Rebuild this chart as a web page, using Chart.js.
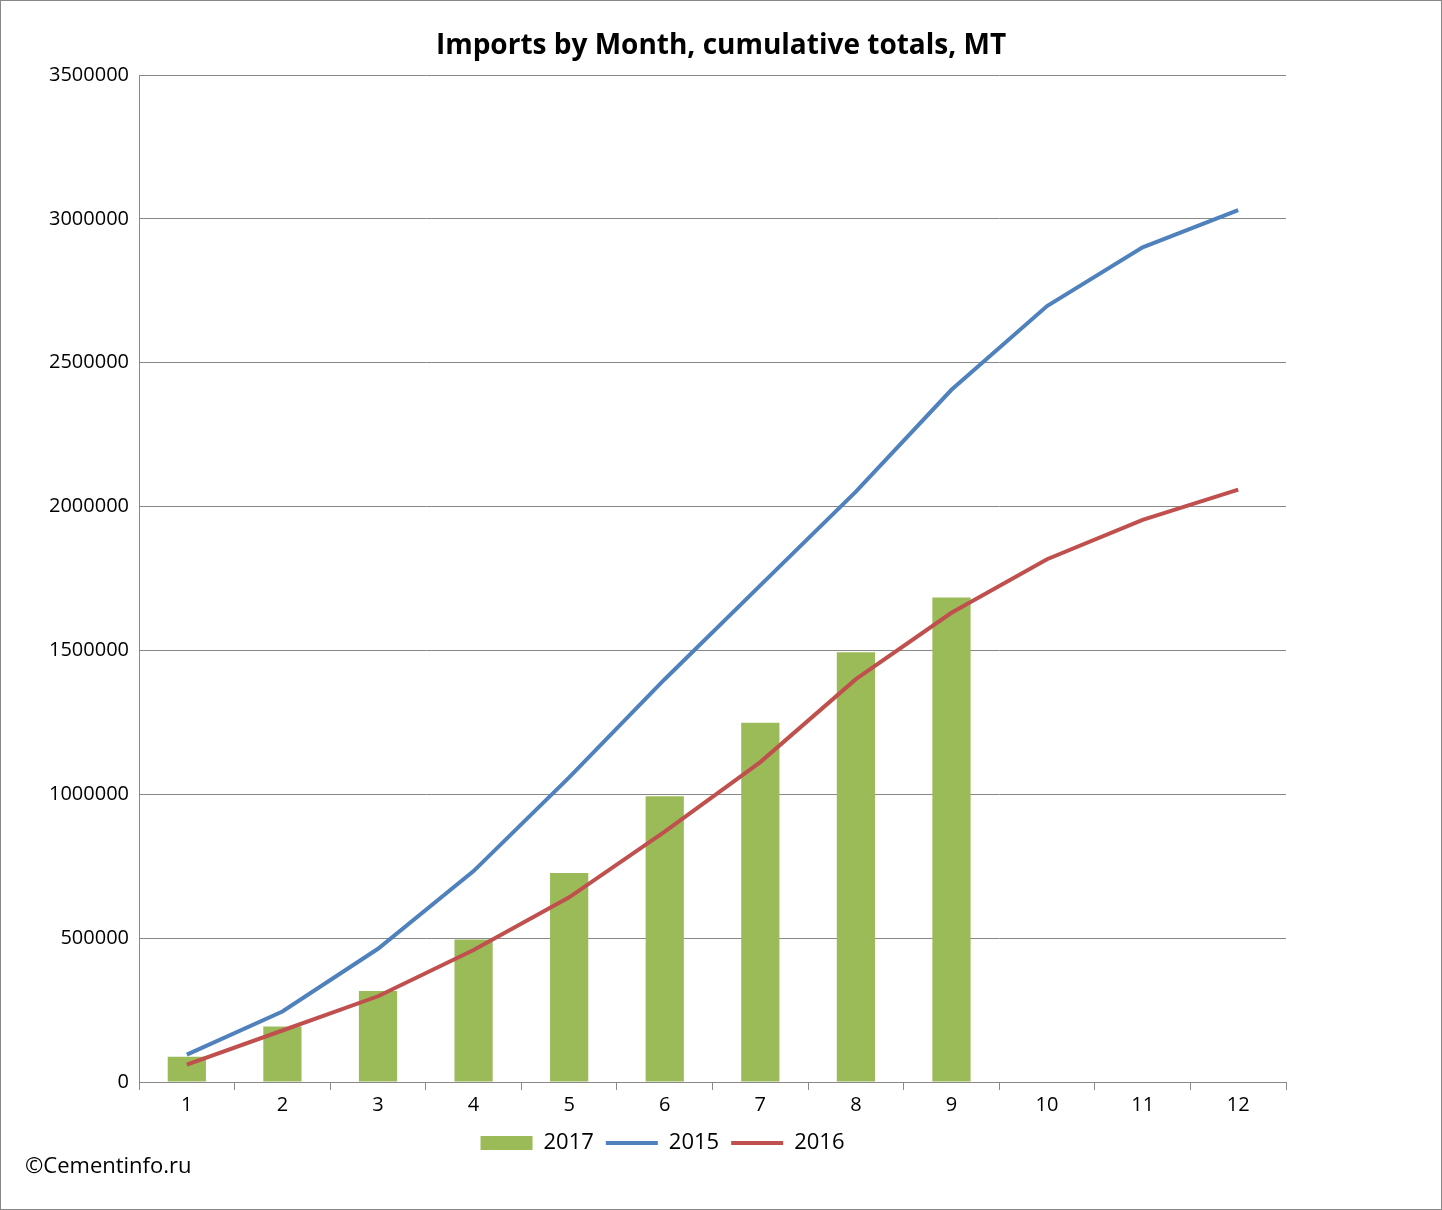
<!DOCTYPE html>
<html><head><meta charset="utf-8">
<script src="https://cdn.jsdelivr.net/npm/chart.js@4"></script>
<style>
body{margin:0;background:#fff}
#wrap{width:1440px;height:1208px;border:1px solid #888;position:relative}
</style></head><body>
<div id="wrap"><canvas id="c" width="1440" height="1208"></canvas></div>
<script>
const months = ['1','2','3','4','5','6','7','8','9','10','11','12'];
const imports2017 = [88000,193000,316000,495000,726000,993000,1249000,1494000,1684000,null,null,null];
const imports2015 = [95000,245000,463000,733000,1059000,1400000,1726000,2052000,2406000,2697000,2901000,3030000];
const imports2016 = [60000,179000,298000,459000,642000,870000,1112000,1400000,1631000,1817000,1954000,2059000];

const font = "'Open Sans', 'Liberation Sans', sans-serif";

const extras = {
    id: 'extras',
    afterDraw(chart) {
        const ctx = chart.ctx;
        ctx.save();
        ctx.fillStyle = '#000';
        ctx.textBaseline = 'middle';
        ctx.font = '22px ' + font;
        ctx.fillText('©Cementinfo.ru', 24, 1166);
        ctx.font = 'bold 28px ' + font;
        ctx.textAlign = 'center';
        ctx.fillText('Imports by Month, cumulative totals, MT', 720, 45);
        ctx.restore();
    }
};

new Chart(document.getElementById('c'), {
    type: 'bar',
    data: {
        labels: months,
        datasets: [
            { type: 'bar', label: '2017', data: imports2017, backgroundColor: '#9BBB59',
              barPercentage: 0.4, categoryPercentage: 1, pointStyle: 'rect', order: 2 },
            { type: 'line', label: '2015', data: imports2015, borderColor: '#4F81BD', backgroundColor: '#4F81BD',
              borderWidth: 4, pointRadius: 0, tension: 0, pointStyle: 'line', order: 1 },
            { type: 'line', label: '2016', data: imports2016, borderColor: '#C0504D', backgroundColor: '#C0504D',
              borderWidth: 4, pointRadius: 0, tension: 0, pointStyle: 'line', order: 0 }
        ]
    },
    options: {
        responsive: false,
        animation: false,
        layout: { padding: { left: 38, right: 155, top: 74, bottom: 45 } },
        scales: {
            x: {
                grid: { display: true, drawOnChartArea: false, offset: true, color: '#888', tickLength: 8 },
                border: { color: '#888' },
                ticks: { color: '#000', font: { size: 20, family: font } }
            },
            y: {
                min: 0, max: 3500000,
                ticks: { stepSize: 500000, color: '#000', font: { size: 20, family: font }, padding: 10,
                         callback: v => String(v) },
                grid: { color: '#888', drawTicks: false },
                border: { color: '#888' }
            }
        },
        plugins: {
            title: { display: false },
            legend: {
                position: 'bottom',
                labels: { usePointStyle: true, pointStyleWidth: 52, boxHeight: 14, color: '#000',
                          font: { size: 22, family: font }, padding: 12,
                          sort: (a, b) => a.datasetIndex - b.datasetIndex }
            },
            tooltip: { enabled: false }
        }
    },
    plugins: [extras]
});
</script>
</body></html>
